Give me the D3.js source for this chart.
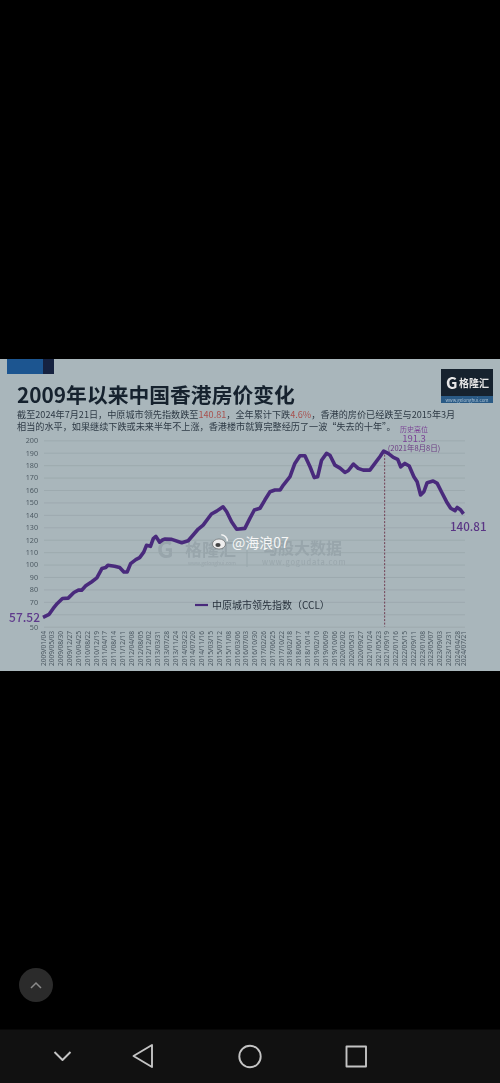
<!DOCTYPE html>
<html>
<head>
<meta charset="utf-8">
<script src="https://cdn.jsdelivr.net/npm/d3@7"></script>
<style>
html, body { margin: 0; padding: 0; background: #000; }
svg { display: block; }
text { font-family: "Noto Sans CJK SC", "Noto Sans", sans-serif; }
</style>
</head>
<body>
<div id="chart"></div>
<script>
var dates = [
    '2009/01/04', '2009/03/28', '2009/05/22', '2009/07/16', '2009/09/24', '2009/12/10', '2010/02/25', '2010/04/27',
    '2010/06/10', '2010/08/04', '2010/10/20', '2011/01/01', '2011/03/10', '2011/05/01', '2011/05/30', '2011/08/28',
    '2011/11/05', '2012/01/01', '2012/02/14', '2012/04/01', '2012/06/10', '2012/08/01', '2012/09/25', '2012/11/01',
    '2012/12/25', '2013/02/01', '2013/03/08', '2013/04/28', '2013/06/10', '2013/07/10', '2013/10/08', '2014/02/20',
    '2014/05/18', '2014/07/24', '2014/10/01', '2014/12/06', '2015/03/28', '2015/06/06', '2015/09/01', '2015/10/20',
    '2015/12/25', '2016/03/03', '2016/06/21', '2016/08/28', '2016/10/27', '2017/01/12', '2017/03/18', '2017/05/27',
    '2017/08/01', '2017/10/10', '2017/11/23', '2018/02/21', '2018/04/27', '2018/07/05', '2018/09/10', '2018/11/18',
    '2019/01/15', '2019/03/01', '2019/04/23', '2019/06/29', '2019/08/14', '2019/10/20', '2019/12/28', '2020/03/03',
    '2020/04/16', '2020/06/25', '2020/08/29', '2020/11/06', '2021/02/03', '2021/04/12', '2021/06/18', '2021/08/08',
    '2021/10/09', '2021/12/17', '2022/02/14', '2022/03/26', '2022/05/22', '2022/07/19', '2022/09/20', '2022/11/03',
    '2022/12/20', '2023/02/02', '2023/03/18', '2023/06/07', '2023/08/01', '2023/09/27', '2023/12/05', '2024/01/30',
    '2024/03/28', '2024/04/27', '2024/06/13', '2024/07/21'
];
var ccl = [
    57.52, 60, 64.7, 68.7, 72.7, 73, 77.5, 79.4,
    79.4, 82.9, 86, 89.3, 96.8, 97.6, 99.5, 98.7,
    97.6, 94, 94, 100.8, 104, 105.6, 110, 115.5,
    114.7, 120.9, 122.7, 118, 120, 120.5, 120.3, 117.6,
    119.2, 123.8, 128.6, 131.8, 140.7, 143, 146.5, 142.5,
    134.5, 128.4, 129.1, 137.2, 143.9, 145.3, 151.9, 158.6,
    160, 160, 164, 170.7, 181.4, 187.6, 187.6, 178.7,
    170, 170.7, 184, 189.5, 188, 180, 177.6, 174.2,
    175.5, 180.9, 177.4, 176, 176, 181.4, 186.8, 191.3,
    189.5, 186.3, 184.7, 178.7, 181.4, 179.3, 170.7, 166.6,
    156, 158.6, 165.9, 167.2, 165.3, 158.6, 150.6, 145.3,
    143.4, 146, 143.9, 140.81
];
var yTicks = [50, 60, 70, 80, 90, 100, 110, 120, 130, 140, 150, 160, 170, 180, 190, 200];
var xTickLabels = [
    '2009/01/04', '2009/05/03', '2009/08/30', '2009/12/27', '2010/04/25', '2010/08/22', '2010/12/19', '2011/04/17',
    '2011/08/14', '2011/12/11', '2012/04/08', '2012/08/05', '2012/12/02', '2013/03/31', '2013/07/28', '2013/11/24',
    '2014/03/23', '2014/07/20', '2014/11/16', '2015/03/15', '2015/07/12', '2015/11/08', '2016/03/06', '2016/07/03',
    '2016/10/30', '2017/02/26', '2017/06/25', '2017/10/22', '2018/02/18', '2018/06/17', '2018/10/14', '2019/02/10',
    '2019/06/09', '2019/10/06', '2020/02/02', '2020/05/31', '2020/09/27', '2021/01/24', '2021/05/23', '2021/09/19',
    '2022/01/16', '2022/05/15', '2022/09/11', '2023/01/08', '2023/05/07', '2023/09/03', '2023/12/31', '2024/04/28',
    '2024/07/21'
];

draw();

function draw() {
    var parseDay = d3.timeParse('%Y/%m/%d');

    var svg = d3.select('#chart')
        .append('svg')
        .attr('width', 500)
        .attr('height', 1083);

    svg.append('rect').attr('width', 500).attr('height', 1083).attr('fill', '#000');

    // the photographed slide, slightly soft like the reference
    var defs = svg.append('defs');
    defs.append('filter').attr('id', 'soft')
        .append('feGaussianBlur').attr('stdDeviation', 0.35);

    var slide = svg.append('g').attr('filter', 'url(#soft)');

    slide.append('rect')
        .attr('x', 0).attr('y', 359)
        .attr('width', 500).attr('height', 312)
        .attr('fill', '#a9b6bb');
    slide.append('rect').attr('x', 7).attr('y', 359).attr('width', 37).attr('height', 15).attr('fill', '#1f5590');
    slide.append('rect').attr('x', 43).attr('y', 359).attr('width', 11).attr('height', 15).attr('fill', '#14233f');

    // title and intro
    slide.append('text')
        .attr('x', 17).attr('y', 403)
        .attr('font-size', 20.8).attr('font-weight', 700)
        .attr('fill', '#16222e')
        .text('2009年以来中国香港房价变化');

    var line1 = slide.append('text')
        .attr('x', 17).attr('y', 417.5)
        .attr('font-size', 9.15)
        .attr('fill', '#2e3a45');
    line1.append('tspan').text('截至2024年7月21日，中原城市领先指数跌至');
    line1.append('tspan').attr('fill', '#a8524f').text('140.81');
    line1.append('tspan').text('，全年累计下跌');
    line1.append('tspan').attr('fill', '#a8524f').text('4.6%');
    line1.append('tspan').text('，香港的房价已经跌至与2015年3月');

    slide.append('text')
        .attr('x', 17).attr('y', 429.5)
        .attr('font-size', 9.15)
        .attr('fill', '#2e3a45')
        .text('相当的水平，如果继续下跌或未来半年不上涨，香港楼市就算完整经历了一波“失去的十年”。');

    // logo
    slide.append('rect').attr('x', 441).attr('y', 369).attr('width', 52).attr('height', 34).attr('fill', '#17222e');
    slide.append('rect').attr('x', 441).attr('y', 396).attr('width', 52).attr('height', 7).attr('fill', '#2a5a85');
    slide.append('text').attr('x', 446).attr('y', 389).attr('font-size', 16).attr('font-weight', 700)
        .attr('fill', '#e8e8e8').text('G');
    slide.append('text').attr('x', 459).attr('y', 387).attr('font-size', 10).attr('font-weight', 700)
        .attr('fill', '#e8e8e8').text('格隆汇');
    slide.append('text').attr('x', 467).attr('y', 401.5).attr('text-anchor', 'middle').attr('font-size', 4.5)
        .attr('fill', '#a9c0d4').text('www.gelonghui.com');

    // scales
    var x = d3.scaleTime()
        .domain([parseDay('2009/01/04'), parseDay('2024/07/21')])
        .range([43, 463.5]);
    var y = d3.scaleLinear()
        .domain([50, 200])
        .range([626.7, 440.3]);

    // watermark under the plot
    var mark = slide.append('g').attr('fill', '#98a5ab');
    mark.append('text').attr('x', 157).attr('y', 558).attr('font-size', 23).attr('font-weight', 700).text('G');
    mark.append('text').attr('x', 185).attr('y', 556).attr('font-size', 17).attr('font-weight', 700).text('格隆汇');
    mark.append('text').attr('x', 188).attr('y', 565).attr('font-size', 5).text('www.gelonghui.com');
    mark.append('rect').attr('x', 246.5).attr('y', 541).attr('width', 1).attr('height', 26);
    mark.append('text').attr('x', 262).attr('y', 554).attr('font-size', 16).attr('font-weight', 700).text('勾股大数据');
    mark.append('text').attr('x', 262).attr('y', 565).attr('font-size', 7.5).attr('letter-spacing', 0.9).text('www.gogudata.com');

    // y axis with the grid lines, the 60 label sits under the 57.52 callout
    var yAxis = d3.axisLeft(y)
        .tickValues(yTicks)
        .tickFormat(function (d) { return d === 60 ? '' : d; })
        .tickSize(-421)
        .tickPadding(6);
    var yGroup = slide.append('g')
        .attr('transform', 'translate(44,0)')
        .call(yAxis);
    yGroup.select('.domain').remove();
    yGroup.selectAll('.tick line').attr('stroke', '#9aa7ac').attr('stroke-width', 0.8);
    yGroup.selectAll('.tick text')
        .attr('font-size', 7.2)
        .attr('fill', '#4d5a63')
        .style('font-family', '"Noto Sans", sans-serif');

    // x axis, rotated dates
    var xAxis = d3.axisBottom(x)
        .tickValues(xTickLabels.map(parseDay))
        .tickFormat(d3.timeFormat('%Y/%m/%d'))
        .tickSize(0);
    var xGroup = slide.append('g')
        .attr('transform', 'translate(0,631)')
        .call(xAxis);
    xGroup.select('.domain').remove();
    xGroup.selectAll('.tick text')
        .attr('transform', 'rotate(-90)')
        .attr('text-anchor', 'end')
        .attr('x', 0)
        .attr('y', 0)
        .attr('dx', 0)
        .attr('dy', '0.32em')
        .attr('font-size', 6.6)
        .attr('fill', '#4d5a63')
        .style('font-family', '"Noto Sans", sans-serif');

    // peak marker
    var peakIndex = d3.greatestIndex(ccl);
    var peakDate = parseDay(dates[peakIndex]);
    slide.append('line')
        .attr('x1', x(peakDate) + 1).attr('x2', x(peakDate) + 1)
        .attr('y1', y(ccl[peakIndex])).attr('y2', y(50))
        .attr('stroke', '#6b3248')
        .attr('stroke-width', 0.9)
        .attr('stroke-dasharray', '2,1.5');

    // line
    var line = d3.line()
        .x(function (d, i) { return x(parseDay(dates[i])); })
        .y(function (d) { return y(d); })
        .curve(d3.curveLinear);
    slide.append('path')
        .datum(ccl)
        .attr('d', line)
        .attr('fill', 'none')
        .attr('stroke', '#4a2a7c')
        .attr('stroke-width', 3.6)
        .attr('stroke-linejoin', 'round');

    // value labels
    slide.append('text').attr('x', 40).attr('y', 622).attr('text-anchor', 'end')
        .attr('font-size', 12).attr('font-weight', 500).attr('fill', '#5f3a8c').text('57.52');
    slide.append('text').attr('x', 450).attr('y', 531)
        .attr('font-size', 11.6).attr('font-weight', 500).attr('fill', '#5a3585').text('140.81');

    slide.append('text').attr('x', 414).attr('y', 431.5).attr('text-anchor', 'middle')
        .attr('font-size', 7).attr('fill', '#7b4396').text('历史高位');
    slide.append('text').attr('x', 414).attr('y', 441.5).attr('text-anchor', 'middle')
        .attr('font-size', 9.5).attr('fill', '#7b4396').text('191.3');
    slide.append('text').attr('x', 414).attr('y', 451).attr('text-anchor', 'middle')
        .attr('font-size', 7.5).attr('fill', '#6b3a82').text('(2021年8月8日)');

    // legend
    slide.append('line').attr('x1', 195).attr('x2', 208).attr('y1', 605).attr('y2', 605)
        .attr('stroke', '#4a2a7c').attr('stroke-width', 2.2);
    slide.append('text').attr('x', 212).attr('y', 609)
        .attr('font-size', 10).attr('fill', '#27313c').text('中原城市领先指数（CCL）');

    // weibo watermark
    var weibo = svg.append('g');
    weibo.append('ellipse').attr('cx', 219).attr('cy', 544).attr('rx', 6.5).attr('ry', 5)
        .attr('fill', '#eeeeee').attr('stroke', '#444').attr('stroke-width', 0.5);
    weibo.append('ellipse').attr('cx', 218).attr('cy', 545).attr('rx', 2.6).attr('ry', 2.1).attr('fill', '#444');
    weibo.append('path').attr('d', d3.arc()({ innerRadius: 5.5, outerRadius: 7, startAngle: 0.05, endAngle: 1.6 }))
        .attr('transform', 'translate(221,541)').attr('fill', '#f4f4f4');
    weibo.append('text').attr('x', 232).attr('y', 548)
        .attr('font-size', 14).attr('fill', '#f6f6f6')
        .text('@海浪07');

    // phone chrome
    svg.append('circle').attr('cx', 36).attr('cy', 985).attr('r', 17).attr('fill', '#2b2b2b');
    svg.append('path').attr('d', 'M31,988 L36,983 L41,988').attr('fill', 'none')
        .attr('stroke', '#8a8a8a').attr('stroke-width', 1.5);

    svg.append('rect').attr('x', 0).attr('y', 1029.5).attr('width', 500).attr('height', 53.5).attr('fill', '#111');
    var nav = svg.append('g').attr('fill', 'none').attr('stroke', '#c4c4c4')
        .attr('stroke-width', 1.9).attr('stroke-linejoin', 'round');
    nav.append('path').attr('d', 'M54.5,1052 L62.5,1060 L70.5,1052');
    nav.append('path').attr('d', 'M133.5,1056 L152,1045 L152,1067 Z');
    nav.append('circle').attr('cx', 250).attr('cy', 1056.5).attr('r', 10.7);
    nav.append('rect').attr('x', 346.5).attr('y', 1046.5).attr('width', 19.5).attr('height', 20);
}
</script>
</body>
</html>
